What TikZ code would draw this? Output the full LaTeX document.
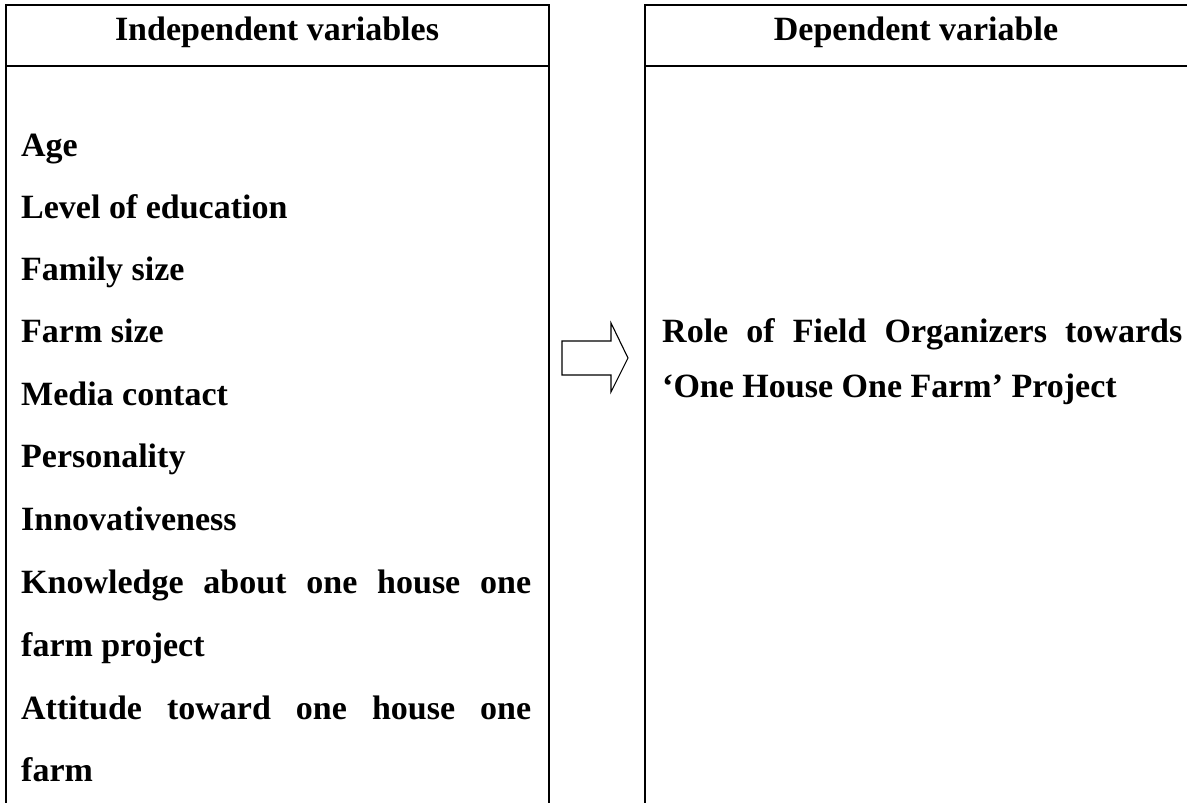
\documentclass[tikz,border=0pt]{standalone}
\usepackage{fontspec}
\setmainfont{Liberation Serif}
\begin{document}
\begin{tikzpicture}[x=1pt,y=-1pt,
  frame/.style={line width=2.2pt, line join=miter},
  blockarrow/.style={line width=1.1pt, draw=black, fill=white, line join=miter},
  txt/.style={anchor=base west, inner sep=0pt, font=\fontsize{34}{40}\selectfont\bfseries},
  hdr/.style={anchor=base, inner sep=0pt, font=\fontsize{34}{40}\selectfont\bfseries}]
\useasboundingbox (0,0) rectangle (1187,803);
% left column frame (open at bottom)
\draw[frame] (6,803) -- (6,5) -- (549,5) -- (549,803);
\draw[frame] (6,66) -- (549,66);
% right column frame
\draw[frame] (645,803) -- (645,5) -- (1192,5);
\draw[frame] (645,66) -- (1192,66);
% headers
\node[hdr] (ih) at (277,40) {Independent variables};
\node[hdr] (dh) at (916,40) {Dependent variable};
% independent variables
\node[txt] (v1) at (21,156) {Age};
\node[txt] (v2) at (21,218) {Level of education};
\node[txt] (v3) at (21,280) {Family size};
\node[txt] (v4) at (21,342) {Farm size};
\node[txt] (v5) at (21,405) {Media contact};
\node[txt] (v6) at (21,467) {Personality};
\node[txt] (v7) at (21,530) {Innovativeness};
\node[txt] (v8) at (21,593) {\makebox[510pt][s]{Knowledge\hfill about\hfill one\hfill house\hfill one}};
\node[txt] (v9) at (21,656) {farm project};
\node[txt] (v10) at (21,719) {\makebox[510pt][s]{Attitude\hfill toward\hfill one\hfill house\hfill one}};
\node[txt] (v11) at (21,781) {farm};
% dependent variable
\node[txt] (d1) at (662,342) {\makebox[520pt][s]{Role\hfill of\hfill Field\hfill Organizers\hfill towards}};
\node[txt] (d2) at (662,397) {‘One House One Farm’ Project};
% block arrow
\draw[blockarrow] (562,341) -- (611,341) -- (611,323) -- (628,358) -- (611,392) -- (611,375) -- (562,375) -- cycle;
\end{tikzpicture}
\end{document}
